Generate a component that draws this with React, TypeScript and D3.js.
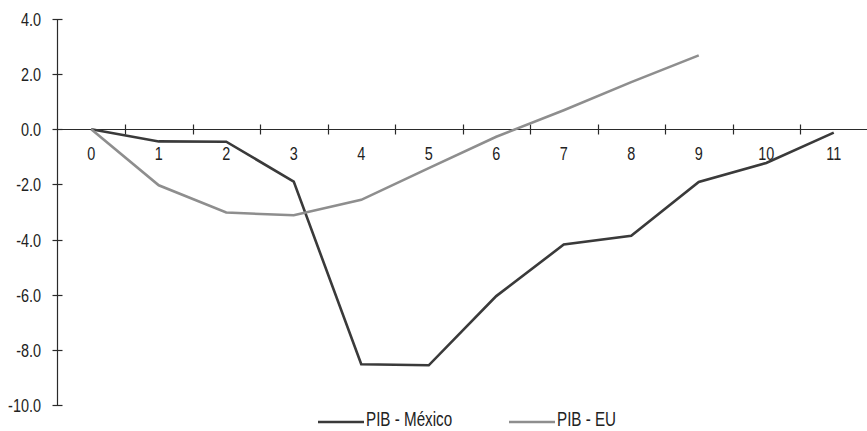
import React, { useEffect, useRef } from "react";
import * as d3 from "d3";

// Quarters after the start of each recession
const periods = ["0", "1", "2", "3", "4", "5", "6", "7", "8", "9", "10", "11"];
// Cumulative GDP change (%), Mexico
const pibMexico = [0, -0.44, -0.45, -1.9, -8.52, -8.56, -6.05, -4.18, -3.86, -1.91, -1.22, -0.12];
// Cumulative GDP change (%), United States
const pibEU = [0, -2.03, -3.02, -3.12, -2.56, -1.41, -0.27, 0.69, 1.71, 2.68];
const yTicks = [-10, -8, -6, -4, -2, 0, 2, 4];
const seriesNames = ["PIB - México", "PIB - EU"];

const W = 867;
const H = 431;
const FONT = "'Liberation Sans', Arial, sans-serif";
const NARROW = 0.76; // horizontal squeeze for a condensed look
const COLORS = ["#3a3a3a", "#8e8e8e"];
const fmt = (v: number) => d3.format(".1f")(v).replace("\u2212", "-");

type Sel = d3.Selection<any, unknown, null, undefined>;

function label(parent: Sel, x: number, y: number, text: string, anchor: string, size = 19) {
  parent
    .append("text")
    .attr("transform", `translate(${x},${y}) scale(${NARROW},1)`)
    .attr("text-anchor", anchor)
    .attr("font-family", FONT)
    .attr("font-size", size)
    .attr("fill", "#222")
    .text(text);
}

export default function App() {
  const ref = useRef<SVGSVGElement | null>(null);

  useEffect(() => {
    const svg = d3.select(ref.current) as Sel;
    svg.selectAll("*").remove();

    const x = d3.scaleBand<string>().domain(periods).range([57.5, 867.5]).paddingInner(0).paddingOuter(0);
    const y = d3.scaleLinear().domain([-10, 4]).range([405, 19]);
    const axisColor = "#2a2a2a";

    // Y axis
    const gy = svg.append("g");
    gy.append("line")
      .attr("x1", 57.5).attr("x2", 57.5)
      .attr("y1", y(4)).attr("y2", y(-10))
      .attr("stroke", axisColor).attr("stroke-width", 1.2);
    yTicks.forEach((t) => {
      const ty = Math.round(y(t)) + 0.5;
      gy.append("line")
        .attr("x1", 52.5).attr("x2", 62.5)
        .attr("y1", ty).attr("y2", ty)
        .attr("stroke", axisColor).attr("stroke-width", 1.2);
      label(gy, 41, ty + 6.5, fmt(t), "end");
    });

    // X axis along zero
    const y0 = Math.round(y(0)) + 0.5;
    const gx = svg.append("g");
    gx.append("line")
      .attr("x1", 57.5).attr("x2", 867.5)
      .attr("y1", y0).attr("y2", y0)
      .attr("stroke", axisColor).attr("stroke-width", 1.2);
    const boundaries = periods.map((p) => x(p) as number).concat([x.range()[1]]);
    boundaries.slice(1).forEach((bx) => {
      gx.append("line")
        .attr("x1", Math.round(bx) + 0.5).attr("x2", Math.round(bx) + 0.5)
        .attr("y1", y0 - 5).attr("y2", y0 + 5)
        .attr("stroke", axisColor).attr("stroke-width", 1.2);
    });
    periods.forEach((p) => {
      label(gx, (x(p) as number) + x.bandwidth() / 2, 160, p, "middle");
    });

    // Series lines
    const line = d3.line<number>()
      .x((_, i) => (x(periods[i]) as number) + x.bandwidth() / 2)
      .y((v) => y(v));
    [pibMexico, pibEU].forEach((s, k) => {
      svg.append("path")
        .datum(s)
        .attr("d", line)
        .attr("fill", "none")
        .attr("stroke", COLORS[k])
        .attr("stroke-width", 2.6)
        .attr("stroke-linejoin", "miter");
    });

    // Legend
    const legendX = [318, 509];
    const legendY = 422;
    seriesNames.forEach((name, k) => {
      const g = svg.append("g");
      g.append("line")
        .attr("x1", legendX[k]).attr("x2", legendX[k] + 46)
        .attr("y1", legendY).attr("y2", legendY)
        .attr("stroke", COLORS[k]).attr("stroke-width", 2.6);
      label(g, legendX[k] + 48, legendY + 4, name, "start", 20);
    });
  }, []);

  return (
    <svg
      ref={ref}
      width={W}
      height={H}
      style={{ position: "absolute", left: 0, top: 0, background: "#fff" }}
    />
  );
}
